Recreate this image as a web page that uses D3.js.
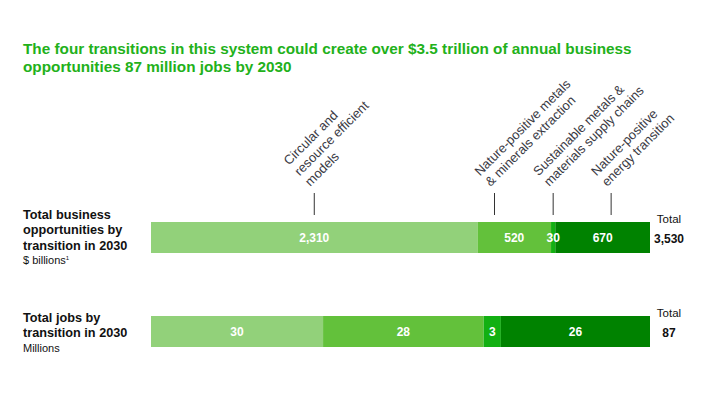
<!DOCTYPE html>
<html>
<head>
    <meta charset="utf-8">
    <title>Four transitions</title>
    <script src="https://d3js.org/d3.v7.min.js"></script>
    <style>
        body {
            margin: 0;
            background: #fff;
        }
        svg text {
            font-family: "Liberation Sans", Arial, Helvetica, sans-serif;
        }
        .title {
            font-size: 15.3px;
            font-weight: bold;
            fill: #22b11a;
        }
        .row-label {
            font-size: 12.7px;
            font-weight: bold;
            fill: #111;
        }
        .row-unit {
            font-size: 11px;
            fill: #111;
        }
        .seg-label {
            font-size: 12px;
            font-weight: bold;
            fill: #fff;
        }
        .total-head {
            font-size: 11.5px;
            fill: #111;
        }
        .total-value {
            font-size: 12px;
            font-weight: bold;
            fill: #111;
        }
        .cat-label {
            font-size: 13px;
            fill: #3a3a44;
        }
    </style>
</head>
<body>
<div id="chart"></div>
<script>
    // data ***********************
    var titleLines = [
        "The four transitions in this system could create over $3.5 trillion of annual business",
        "opportunities 87 million jobs by 2030"
    ];
    var categories = [
        ["Circular and", "resource efficient", "models"],
        ["Nature-positive metals", "& minerals extraction"],
        ["Sustainable metals &", "materials supply chains"],
        ["Nature-positive", "energy transition"]
    ];
    var colors = ["#92d17a", "#63c13b", "#12b012", "#008200"];

    var rowLabels = [
        ["Total business", "opportunities by", "transition in 2030"],
        ["Total jobs by", "transition in 2030"]
    ];
    var rowUnits = ["$ billions", "Millions"];
    var rowUnitNotes = ["1", ""];

    var businessValues = [2310, 520, 30, 670];
    var jobsValues = [30, 28, 3, 26];

    // where the category pointers sit, in $ billions along the top bar
    var pointerValues = [1155, 2430, 2845, 3255];

    // layout ***********************
    var width = 705, height = 398;
    var barLeft = 151, barRight = 650;
    var barH = 31;
    var rowTops = [222, 316];
    var labelBase = [219, 322];
    var fmt = d3.format(",");

    var svg = d3.select("#chart").append("svg")
        .attr("width", width)
        .attr("height", height);

    // title
    svg.append("text")
        .attr("class", "title")
        .selectAll("tspan")
        .data(titleLines)
        .enter().append("tspan")
        .attr("x", 23)
        .attr("y", function (d, i) { return 53.5 + i * 18.5; })
        .text(function (d) { return d; });

    var rows = [businessValues, jobsValues];

    rows.forEach(function (values, r) {
        var total = d3.sum(values);
        var x = d3.scaleLinear().domain([0, total]).range([barLeft, barRight]);
        var ends = Array.from(d3.cumsum(values));
        var segs = values.map(function (v, i) {
            return {value: v, x0: ends[i] - v, x1: ends[i], color: colors[i]};
        });
        var top = rowTops[r];

        var g = svg.append("g");

        g.selectAll("rect")
            .data(segs)
            .enter().append("rect")
            .attr("x", function (d) { return x(d.x0); })
            .attr("y", top)
            .attr("width", function (d) { return x(d.x1) - x(d.x0); })
            .attr("height", barH)
            .attr("fill", function (d) { return d.color; });

        g.selectAll(".seg-label")
            .data(segs)
            .enter().append("text")
            .attr("class", "seg-label")
            .attr("text-anchor", "middle")
            .attr("x", function (d) { return (x(d.x0) + x(d.x1)) / 2; })
            .attr("y", top + barH / 2 + 4.5)
            .text(function (d) { return fmt(d.value); });

        // totals on the right
        g.append("text")
            .attr("class", "total-head")
            .attr("text-anchor", "middle")
            .attr("x", 669)
            .attr("y", top + 1)
            .text("Total");
        g.append("text")
            .attr("class", "total-value")
            .attr("text-anchor", "middle")
            .attr("x", 669)
            .attr("y", top + 20.5)
            .text(fmt(total));

        // row label on the left
        var lines = rowLabels[r];
        var firstBase = labelBase[r];
        var lbl = g.append("text").attr("class", "row-label");
        lbl.selectAll("tspan")
            .data(lines)
            .enter().append("tspan")
            .attr("x", 23)
            .attr("y", function (d, i) { return firstBase + i * 15.3; })
            .text(function (d) { return d; });

        var unit = g.append("text")
            .attr("class", "row-unit")
            .attr("x", 23)
            .attr("y", firstBase + (lines.length - 1) * 15.3 + 14.5)
            .text(rowUnits[r]);
        if (rowUnitNotes[r]) {
            unit.append("tspan")
                .attr("dy", -4)
                .style("font-size", "6px")
                .text(rowUnitNotes[r]);
        }

        // category pointers above the first bar
        if (r === 0) {
            var lineTop = 193, lineBottom = 215;
            var p = svg.append("g").selectAll("g")
                .data(pointerValues)
                .enter().append("g");

            p.append("line")
                .attr("x1", function (d) { return x(d); })
                .attr("x2", function (d) { return x(d); })
                .attr("y1", lineTop)
                .attr("y2", lineBottom)
                .attr("stroke", "#333")
                .attr("stroke-width", 1);

            p.append("text")
                .attr("class", "cat-label")
                .attr("transform", function (d) {
                    return "translate(" + (x(d) - 4) + "," + (lineTop - 6) + ") rotate(-45)";
                })
                .selectAll("tspan")
                .data(function (d, i) {
                    var c = categories[i];
                    return c.map(function (t, j) { return {text: t, k: j - (c.length - 1)}; });
                })
                .enter().append("tspan")
                .attr("x", 0)
                .attr("y", function (d) { return d.k * 15; })
                .text(function (d) { return d.text; });
        }
    });
</script>
</body>
</html>
